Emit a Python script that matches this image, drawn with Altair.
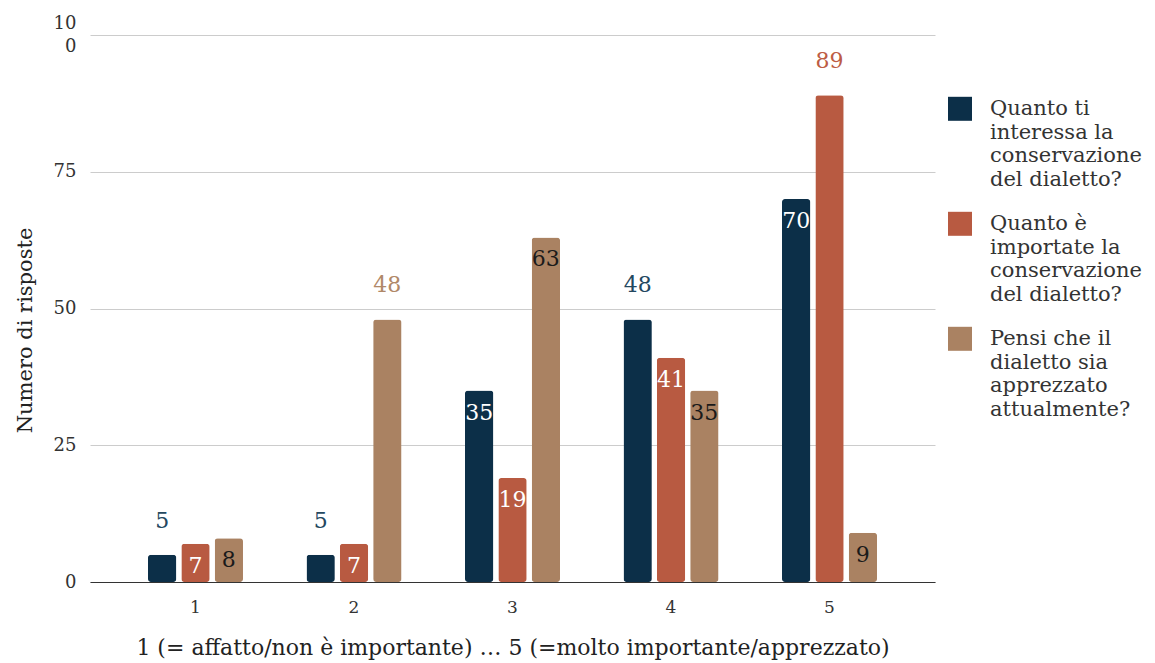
import altair as alt
import pandas as pd

categories = ["1", "2", "3", "4", "5"]
series_names = [
    "Quanto ti\ninteressa la\nconservazione\ndel dialetto?",
    "Quanto è\nimportate la\nconservazione\ndel dialetto?",
    "Pensi che il\ndialetto sia\napprezzato\nattualmente?",
]
interesse = [5, 5, 35, 48, 70]
importanza = [7, 7, 19, 41, 89]
apprezzato = [8, 48, 63, 35, 9]
# whether the value label sits inside the bar (True) or above it (False)
inside_interesse = [False, False, True, False, True]
inside_importanza = [True, True, True, True, False]
inside_apprezzato = [True, False, True, True, True]

colors = ["#0c2f48", "#b85a41", "#aa8262"]
label_colors = ["#24485f", "#bd5c44", "#b08868"]
FONT = "DejaVu Serif"

rows = []
for s, vals, ins in zip(series_names, [interesse, importanza, apprezzato],
                        [inside_interesse, inside_importanza, inside_apprezzato]):
    for c, v, i in zip(categories, vals, ins):
        rows.append({"cat": c, "series": s, "value": v, "inside": i})
df = pd.DataFrame(rows)

x = alt.X("cat:N", sort=categories,
          scale=alt.Scale(paddingInner=0.369, paddingOuter=0.35),
          axis=alt.Axis(title="1 (= affatto/non è importante) … 5 (=molto importante/apprezzato)",
                        labelAngle=0, ticks=False, domainColor="#333333", labelPadding=17,
                        titlePadding=22, titleFontSize=22, grid=False))
xo = alt.XOffset("series:N", sort=series_names,
                 scale=alt.Scale(paddingInner=0.15, paddingOuter=0.075))
y = alt.Y("value:Q", scale=alt.Scale(domain=[0, 100], nice=False),
          axis=alt.Axis(title="Numero di risposte", values=[0, 25, 50, 75, 100],
                        domain=False, ticks=False, gridColor="#cccccc", labelPadding=14,
                        labelFontSize=18,
                        labelExpr="datum.value == 100 ? ['10', '0'] : datum.label",
                        labelOffset={"condition": {"test": "datum.value == 100", "value": -12},
                                     "value": 0},
                        titleFontSize=21, titleY=295, titlePadding=18))
color = alt.Color("series:N", sort=series_names,
                  scale=alt.Scale(domain=series_names, range=colors),
                  legend=alt.Legend(title=None, orient="none", legendX=858, legendY=51,
                                    labelExpr="split(datum.label, '\\n')",
                                    labelBaseline="top", labelLimit=400,
                                    symbolType="M-1,-0.1H1V1.9H-1Z", symbolSize=576,
                                    symbolStrokeWidth=0, symbolOpacity=1,
                                    labelOffset=18, rowPadding=11, padding=0))

base = alt.Chart(df)
bars = base.mark_bar(cornerRadius=3).encode(x=x, xOffset=xo, y=y, color=color)

inside_txt = base.transform_filter("datum.inside").mark_text(
    baseline="middle", dy=22, fontSize=22, font=FONT
).encode(
    x=x, xOffset=xo, y=y, text="value:Q",
    color=alt.condition(alt.datum.series == series_names[2], alt.value("#1a1a1a"), alt.value("white")),
)
outside_txt = base.transform_filter("!datum.inside").mark_text(
    baseline="middle", dy=-34, fontSize=22, font=FONT
).encode(
    x=x, xOffset=xo, y=y, text="value:Q",
    color=alt.Color("series:N", sort=series_names,
                    scale=alt.Scale(domain=series_names, range=label_colors), legend=None),
)

chart = alt.layer(bars, inside_txt, outside_txt).resolve_scale(color="independent").properties(
    width=845, height=547,
    autosize=alt.AutoSizeParams(type="none"),
    padding={"left": 90, "top": 35, "right": 220, "bottom": 81},
).configure(
    style={"guide-label": {"lineHeight": 23.5}}
).configure_view(stroke=None).configure_axis(
    labelFont=FONT, titleFont=FONT, labelFontSize=17,
    labelColor="#333333", titleColor="#222222", titleFontWeight="normal",
).configure_legend(
    labelFont=FONT, labelFontSize=21, labelColor="#333333",
)

chart.save("out.html", embed_options={"renderer": "svg", "actions": False})
